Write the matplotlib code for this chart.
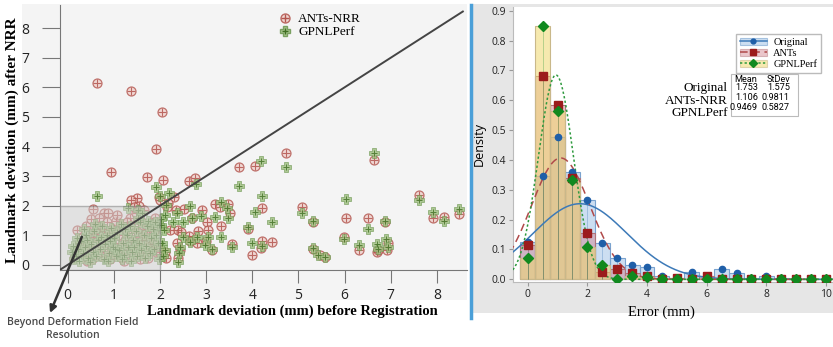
import numpy as np
import matplotlib.pyplot as plt
from matplotlib.patches import Rectangle, Patch
from matplotlib.lines import Line2D

W, H = 833, 347

# ---------------- left panel data: landmark deviation before / after NRR ----------------
ants_pts = np.array([
    # outliers / spread part
    (0.63, 6.16), (1.37, 5.86), (2.04, 5.15), (1.91, 3.9), (0.94, 3.15), (1.72, 2.97), (2.07, 2.87),
    (2.63, 2.82), (2.75, 2.93), (3.71, 3.3), (4.06, 3.34), (4.72, 3.77), (6.63, 3.55), (7.61, 2.36),
    (7.92, 1.58), (8.15, 1.61), (8.48, 1.72), (5.08, 1.95), (5.31, 1.44), (6.03, 1.59), (6.5, 1.59),
    (6.87, 1.46), (5.99, 0.96), (5.32, 0.54), (5.47, 0.34), (5.57, 0.26), (6.31, 0.51), (6.71, 0.45),
    (6.91, 0.51), (6.94, 0.73), (6.73, 0.5), (3.91, 1.22), (4.21, 1.91), (4.21, 0.82), (4.2, 0.56),
    (4.42, 0.79), (4.0, 0.34), (3.57, 0.71), (3.32, 1.32), (3.19, 2.06), (3.3, 1.97), (3.47, 2.06),
    (3.52, 1.75), (2.92, 1.86), (3.03, 1.44), (3.05, 1.18), (2.99, 0.82), (3.12, 0.51), (2.82, 1.14),
    (2.7, 1.6), (2.8, 0.73), (2.64, 0.99), (2.65, 0.82), (2.52, 1.88), (2.34, 1.86), (2.31, 2.31),
    (2.18, 2.08), (2.15, 1.97), (2.22, 1.18), (2.4, 1.18), (2.45, 1.1), (2.36, 0.73), (2.4, 0.25),
    (2.13, 0.23), (2.12, 0.45), (2.43, 0.49), (1.97, 2.31), (2.0, 2.2), (1.5, 2.25), (1.37, 2.2),
    (1.55, 2.0), (0.55, 1.88), (0.8, 1.77), (0.88, 1.77),
    # dense cluster below 2 mm
    (0.15, 0.25), (0.2, 1.18), (0.25, 0.55), (0.3, 0.9), (0.35, 0.4), (0.4, 1.3), (0.45, 0.7),
    (0.5, 1.55), (0.52, 0.2), (0.55, 1.05), (0.6, 0.5), (0.65, 1.35), (0.7, 0.85), (0.72, 0.3),
    (0.78, 1.2), (0.8, 0.6), (0.85, 1.45), (0.9, 0.95), (0.92, 0.2), (0.95, 0.45), (1.0, 1.25),
    (1.02, 0.75), (1.05, 1.5), (1.1, 0.35), (1.12, 1.0), (1.15, 0.6), (1.2, 1.4), (1.22, 0.15),
    (1.25, 0.85), (1.3, 1.2), (1.32, 0.5), (1.35, 1.6), (1.4, 0.95), (1.42, 0.3), (1.45, 1.3),
    (1.5, 0.7), (1.52, 1.1), (1.55, 0.4), (1.6, 1.5), (1.62, 0.85), (1.65, 1.85), (1.7, 0.55),
    (1.72, 1.2), (1.75, 0.25), (1.8, 1.0), (1.82, 1.45), (1.85, 0.7), (1.9, 1.6), (1.92, 0.45),
    (1.95, 1.3), (0.28, 0.75), (0.42, 0.15), (0.58, 0.95), (0.68, 1.6), (0.88, 0.4), (1.08, 1.7),
    (1.18, 0.25), (1.38, 0.65), (1.48, 1.75), (1.58, 0.2), (1.68, 1.05), (1.78, 0.65), (1.88, 1.15),
    (0.98, 1.1), (0.75, 1.0), (1.28, 1.45), (0.38, 0.6), (0.62, 1.2), (1.45, 1.95), (1.98, 0.5),
])
gpnl_pts = np.array([
    (0.63, 2.33), (1.92, 2.62), (2.78, 2.74), (3.71, 2.68), (4.2, 3.52), (4.72, 3.32), (4.21, 2.34),
    (6.63, 3.77), (7.61, 2.2), (7.92, 1.8), (8.15, 1.5), (8.48, 1.89), (6.04, 2.22), (5.08, 1.75),
    (5.31, 1.5), (6.5, 1.22), (6.87, 1.5), (5.99, 0.88), (6.31, 0.68), (6.71, 0.7), (6.89, 0.88),
    (6.94, 0.6), (6.73, 0.53), (5.32, 0.56), (5.43, 0.34), (5.57, 0.28), (3.91, 1.29), (4.06, 1.8),
    (3.99, 0.73), (4.22, 0.65), (4.42, 1.46), (3.57, 0.62), (3.32, 0.96), (3.32, 2.14), (3.45, 1.94),
    (3.48, 1.58), (3.19, 1.63), (3.05, 0.96), (2.97, 0.68), (3.12, 0.53), (2.88, 1.64), (2.65, 1.99),
    (2.7, 1.57), (2.65, 0.79), (2.8, 0.96), (2.5, 1.46), (2.49, 0.96), (2.4, 0.11), (2.36, 1.76),
    (2.29, 1.46), (2.2, 2.42), (2.12, 1.69), (2.09, 1.18), (2.11, 0.51), (2.42, 0.4), (2.44, 0.62),
    (2.13, 2.04), (2.0, 2.33), (1.32, 1.91), (1.52, 1.84), (2.03, 1.35), (2.05, 0.75), (2.06, 0.3),
    (2.02, 1.55),
    # dense cluster below 2 mm
    (0.1, 0.45), (0.12, 0.65), (0.18, 0.3), (0.22, 0.55), (0.25, 0.15), (0.3, 0.8), (0.33, 0.4),
    (0.38, 0.6), (0.4, 1.0), (0.45, 0.25), (0.5, 0.7), (0.55, 0.45), (0.58, 1.15), (0.62, 0.3),
    (0.65, 0.85), (0.7, 0.55), (0.75, 1.3), (0.78, 0.2), (0.82, 0.7), (0.85, 1.0), (0.9, 0.4),
    (0.95, 1.25), (0.98, 0.6), (1.0, 0.9), (1.05, 0.3), (1.08, 1.1), (1.12, 0.5), (1.15, 1.4),
    (1.2, 0.75), (1.22, 0.35), (1.28, 1.0), (1.3, 0.6), (1.35, 1.3), (1.4, 0.45), (1.42, 0.85),
    (1.48, 1.15), (1.5, 0.3), (1.55, 0.75), (1.58, 1.45), (1.6, 0.5), (1.65, 1.0), (1.7, 0.65),
    (1.72, 1.3), (1.78, 0.4), (1.8, 0.9), (1.85, 1.2), (1.88, 0.55), (1.92, 1.0), (1.95, 0.75),
    (1.98, 1.35), (0.2, 0.9), (0.35, 1.2), (0.48, 0.1), (0.6, 1.4), (0.72, 0.95), (0.88, 0.15),
    (1.02, 0.55), (1.18, 0.2), (1.38, 0.15), (1.52, 1.6), (1.62, 1.75), (1.75, 1.5), (1.9, 1.45),
    (1.98, 0.2), (0.15, 0.2), (0.42, 0.85), (0.92, 0.8), (1.25, 1.2), (1.45, 0.6), (1.68, 0.25),
])
ants_x, ants_y = ants_pts.T
gpnl_x, gpnl_y = gpnl_pts.T
scatter_ticks = [0, 1, 2, 3, 4, 5, 6, 7, 8]

# ---------------- right panel data: error histograms ----------------
err_bins = [0, 0.5, 1.0, 1.5, 2.0, 2.5, 3.0, 3.5, 4.0, 4.5, 5.0,
            5.5, 6.0, 6.5, 7.0, 7.5, 8.0, 8.5, 9.0, 9.5, 10.0]
dens_orig = [0.125, 0.347, 0.476, 0.36, 0.265, 0.122, 0.073, 0.047, 0.042, 0.012, 0.005,
             0.026, 0.01, 0.033, 0.02, 0.005, 0.012, 0.005, 0.0, 0.0, 0.0]
dens_ants = [0.115, 0.68, 0.583, 0.34, 0.155, 0.025, 0.033, 0.02, 0.012, 0.0, 0.005,
             0.0, 0.012, 0.0, 0.0, 0.0, 0.0, 0.0, 0.0, 0.0, 0.0]
dens_gpnl = [0.073, 0.85, 0.565, 0.333, 0.108, 0.047, 0.0, 0.012, 0.007, 0.0, 0.0,
             0.0, 0.0, 0.0, 0.0, 0.0, 0.0, 0.0, 0.0, 0.0, 0.0]
stat_names = ["Original", "ANTs-NRR", "GPNLPerf"]
stat_mean = [1.753, 1.106, 0.9469]
stat_sd = [1.575, 0.9811, 0.5827]
stat_mean_txt = ["1.753", "1.106", "0.9469"]
stat_sd_txt = ["1.575", "0.9811", "0.5827"]

SERIF = "Liberation Serif"
SANS = "Open Sans"

fig = plt.figure(figsize=(W / 100, H / 100), dpi=100)

# panel backgrounds
fig.add_artist(Rectangle((22 / W, 1 - 300 / H), 445 / W, 296 / H, transform=fig.transFigure,
                         fc="#f4f4f4", ec="none", zorder=-5))
fig.add_artist(Rectangle((473 / W, 1 - 313 / H), 360 / W, 309 / H, transform=fig.transFigure,
                         fc="#e6e6e6", ec="none", zorder=-5))
fig.add_artist(Line2D([471 / W, 471 / W], [1 - 5 / H, 1 - 318 / H], transform=fig.transFigure,
                      color="#4a9fd8", lw=2.5))

# ---------------- left scatter ----------------
ax1 = fig.add_axes([60 / W, 1 - 270 / H, 407 / W, 265 / H])
ax1.patch.set_alpha(0)
x0, y0 = -0.163, -0.17
ax1.set_xlim(x0, 8.65)
ax1.set_ylim(y0, 8.78)

ax1.scatter(ants_x, ants_y, s=42, marker="o", facecolor="#f0d2cc", edgecolor="#b3554e",
            linewidth=0.9, alpha=0.8, zorder=3)
ax1.scatter(ants_x, ants_y, s=30, marker="+", color="#b3554e", linewidth=0.8, alpha=0.85, zorder=3)
ax1.scatter(gpnl_x, gpnl_y, s=45, marker="P", facecolor="#9cbd7c", edgecolor="#6c9650",
            linewidth=0.5, alpha=0.8, zorder=4)
ax1.scatter(gpnl_x, gpnl_y, s=22, marker="+", color="#3f6e22", linewidth=0.7, alpha=0.8, zorder=4)

ax1.add_patch(Rectangle((x0, y0), 2 - x0, 2 - y0, fc="#d0d0d0", ec="#777777", lw=1.0,
                        alpha=0.5, zorder=5))
ax1.plot([x0, 8.56], [x0, 8.56], color="#444444", lw=1.4, zorder=6)

for side in ("top", "right"):
    ax1.spines[side].set_visible(False)
for side in ("left", "bottom"):
    ax1.spines[side].set_color("#777777")
ax1.set_xticks(scatter_ticks)
ax1.set_yticks(scatter_ticks)
ax1.tick_params(axis="y", length=13, color="#777777", labelsize=10, pad=9, labelcolor="#222222")
ax1.tick_params(axis="x", length=9, color="#777777", labelsize=10, pad=4, labelcolor="#222222")
for lab in ax1.get_xticklabels() + ax1.get_yticklabels():
    lab.set_family(SANS)

ax1.set_xlabel("Landmark deviation (mm) before Registration", family=SERIF, weight="bold",
               fontsize=10.5)
ax1.xaxis.set_label_coords(0.57, -0.13)
ax1.set_ylabel("Landmark deviation (mm) after NRR", family=SERIF, weight="bold", fontsize=11)
ax1.yaxis.set_label_coords(-0.10, 0.49)

leg_h = [
    (Line2D([], [], ls="none", marker="o", ms=6.5, mfc="#f0d2cc", mec="#b3554e", alpha=0.85),
     Line2D([], [], ls="none", marker="+", ms=5.5, color="#b3554e")),
    (Line2D([], [], ls="none", marker="P", ms=6.5, mfc="#9cbd7c", mec="#6c9650", alpha=0.85),
     Line2D([], [], ls="none", marker="+", ms=4.5, color="#3f6e22")),
]
ax1.legend(leg_h, ["ANTs-NRR", "GPNLPerf"], loc="upper left",
           bbox_to_anchor=(268 / W, 1 - 4 / H), bbox_transform=fig.transFigure, frameon=False,
           handlelength=1.2, handletextpad=0.4, labelspacing=0.05, borderpad=0.2,
           prop={"family": SERIF, "size": 9.5})

ax1.annotate("", xy=(50 / W, 1 - 313 / H), xycoords="figure fraction",
             xytext=(0.31, 0.95), textcoords="data",
             arrowprops=dict(arrowstyle="-|>", color="#333333", lw=1.8, shrinkA=0, shrinkB=0,
                             mutation_scale=10), annotation_clip=False, zorder=7)
fig.text(73 / W, 1 - 329 / H, "Beyond Deformation Field\nResolution", ha="center", va="center",
         family=SANS, weight="semibold", fontsize=7.5, color="#4a4a4a", linespacing=1.35)

# ---------------- right histogram ----------------
ax2 = fig.add_axes([513 / W, 1 - 282 / H, 320 / W, 275 / H])
ax2.set_facecolor("white")
ax2.set_xlim(-0.493, 10.235)
ax2.set_ylim(-0.009, 0.9125)

series = [
    (dens_orig, "#aac8e8", 0.6, "#7aa3cf", "#1f5fa8", "o", 4.5, "#3d7ab8", "-", 0),
    (dens_ants, "#d2828c", 0.45, "#b0747a", "#9b1c1c", "s", 6, "#b04a4a", (0, (5, 3)), 1),
    (dens_gpnl, "#f0d76e", 0.55, "#c9b88a", "#11891f", "D", 5.5, "#2e9a3e", (0, (1.5, 1.5)), 2),
]
xs = np.linspace(-0.6, 10.4, 400)
for vals, fc, a, ec, mc, mk, ms, lc, ls, i in series:
    ax2.bar(err_bins, vals, width=0.5, color=fc, alpha=a, edgecolor="none", zorder=1 + i)
    ax2.bar(err_bins, vals, width=0.5, fill=False, edgecolor=ec, lw=0.8, zorder=1.5 + i)
for vals, fc, a, ec, mc, mk, ms, lc, ls, i in series:
    ax2.vlines(err_bins, 0, vals, color=lc, lw=0.5, alpha=0.45, zorder=6)
    m, sd = stat_mean[i], stat_sd[i]
    ax2.plot(xs, np.exp(-0.5 * ((xs - m) / sd) ** 2) / (sd * np.sqrt(2 * np.pi)),
             color=lc, lw=1.1, ls=ls, zorder=7)
for vals, fc, a, ec, mc, mk, ms, lc, ls, i in series:
    ax2.plot(err_bins, vals, ls="none", marker=mk, ms=ms, color=mc, zorder=8 + i)

for side in ("top", "right"):
    ax2.spines[side].set_visible(False)
for side in ("left", "bottom"):
    ax2.spines[side].set_color("#bbbbbb")
ax2.set_xticks([0, 2, 4, 6, 8, 10])
ax2.set_yticks([0.0, 0.1, 0.2, 0.3, 0.4, 0.5, 0.6, 0.7, 0.8, 0.9])
ax2.set_yticklabels(["0.0", "0.1", "0.2", "0.3", "0.4", "0.5", "0.6", "0.7", "0.8", "0.9"])
ax2.tick_params(length=3, color="#999999", labelsize=7.5, pad=2, labelcolor="#222222")
for lab in ax2.get_xticklabels() + ax2.get_yticklabels():
    lab.set_family(SANS)
ax2.set_ylabel("Density", family=SANS, fontsize=9)
ax2.yaxis.set_label_coords(-0.085, 0.5)
ax2.set_xlabel("Error (mm)", family=SERIF, fontsize=10.5)
ax2.xaxis.set_label_coords(0.465, -0.085)

leg2_h = []
for vals, fc, a, ec, mc, mk, ms, lc, ls, i in series:
    leg2_h.append((Patch(fc=fc, alpha=a, ec=ec, lw=0.8),
                   Line2D([], [], color=lc, ls=ls, lw=1.1, marker=mk, ms=ms - 1, mfc=mc, mec=mc)))
ax2.legend(leg2_h, ["Original", "ANTs", "GPNLPerf"], loc="upper left",
           bbox_to_anchor=(731 / W, 1 - 29 / H), bbox_transform=fig.transFigure,
           fancybox=False, edgecolor="#bbbbbb", framealpha=1, handlelength=2.6,
           handletextpad=0.6, labelspacing=0.15, borderpad=0.35,
           prop={"family": SERIF, "size": 7.5})

# summary table
fig.add_artist(Rectangle((731 / W, 1 - 116 / H), 67 / W, 42 / H, transform=fig.transFigure,
                         fc="white", ec="#bbbbbb", lw=0.8))
TAB = "Roboto"
fig.text(757 / W, 1 - 79 / H, "Mean", ha="right", va="center", family=TAB, fontsize=6.6)
fig.text(790 / W, 1 - 79 / H, "StDev", ha="right", va="center", family=TAB, fontsize=6.6)
row_y = [88, 97.5, 107]
lab_y = [88.5, 101, 112.5]
for j in range(3):
    fig.text(758 / W, 1 - row_y[j] / H, stat_mean_txt[j], ha="right", va="center",
             family=TAB, fontsize=6.6)
    fig.text(790 / W, 1 - row_y[j] / H, stat_sd_txt[j], ha="right", va="center",
             family=TAB, fontsize=6.6)
    fig.text(728 / W, 1 - lab_y[j] / H, stat_names[j], ha="right", va="center",
             family=SERIF, fontsize=9.5)

fig.savefig("out.png", dpi=100)
